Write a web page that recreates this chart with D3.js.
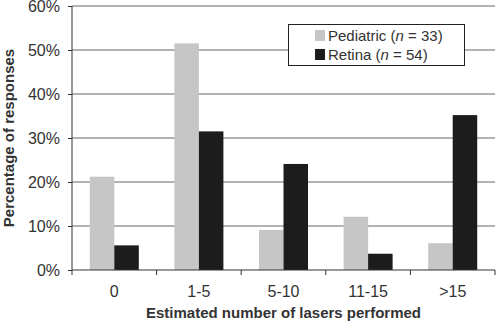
<!DOCTYPE html>
<html>
<head>
<meta charset="utf-8">
<script src="https://cdn.jsdelivr.net/npm/d3@7"></script>
<style>
  body { margin: 0; background: #fff; }
  text { font-family: "Liberation Sans", Arial, sans-serif; fill: #333; }
</style>
</head>
<body>
<div></div>
<script>
var categories = ["0", "1-5", "5-10", "11-15", ">15"];
var pediatric = [21.2, 51.5, 9.1, 12.1, 6.1];
var retina = [5.6, 31.5, 24.1, 3.7, 35.2];
var seriesNames = ["Pediatric", "Retina"];
var seriesN = [33, 54];
var yTicks = [0, 10, 20, 30, 40, 50, 60];

var width = 496;
var height = 325;
var plotLeft = 72, plotRight = 495, plotTop = 6, plotBottom = 270;

var svg = d3.select("div")
    .append("svg")
    .attr("width", width)
    .attr("height", height);

var xscale = d3.scaleBand()
    .domain(categories)
    .range([plotLeft, plotRight]);

var yscale = d3.scaleLinear()
    .domain([0, 60])
    .range([plotBottom, plotTop]);

var barW = 24.5;

// gridlines
svg.append("g")
    .selectAll("line")
    .data(yTicks.slice(1))
    .enter()
    .append("line")
    .attr("x1", plotLeft)
    .attr("x2", plotRight)
    .attr("y1", d => yscale(d))
    .attr("y2", d => yscale(d))
    .attr("stroke", "#666")
    .attr("stroke-width", 1);

// bars
var colors = ["#c6c6c6", "#1c1c1c"];
[pediatric, retina].forEach(function (vals, s) {
    svg.append("g")
        .selectAll("rect")
        .data(vals)
        .enter()
        .append("rect")
        .attr("x", (d, i) => xscale(categories[i]) + xscale.bandwidth() / 2 - barW + s * barW)
        .attr("y", d => yscale(d))
        .attr("width", barW)
        .attr("height", d => plotBottom - yscale(d))
        .attr("fill", colors[s]);
});

// y axis
var yaxis = d3.axisLeft(yscale)
    .tickValues(yTicks)
    .tickFormat(d => d + "%")
    .tickSize(4)
    .tickPadding(8);
var gy = svg.append("g")
    .attr("transform", "translate(" + plotLeft + ",0)")
    .call(yaxis);
gy.select(".domain").attr("stroke", "#333").attr("d", "M0," + plotTop + "V" + plotBottom);
gy.selectAll("line").attr("stroke", "#333");
gy.selectAll("text").style("font-size", "16px").attr("fill", "#444");

// x axis
var xaxis = d3.axisBottom(xscale).tickSize(0).tickPadding(16);
var gx = svg.append("g")
    .attr("transform", "translate(0," + plotBottom + ")")
    .call(xaxis);
gx.select(".domain").attr("stroke", "#333").attr("d", "M" + plotLeft + ",0H" + plotRight);
gx.selectAll("text").style("font-size", "16px").attr("fill", "#444");
gx.selectAll(".sep")
    .data(categories.concat(["end"]))
    .enter()
    .append("line")
    .attr("class", "sep")
    .attr("x1", (d, i) => plotLeft + i * xscale.bandwidth())
    .attr("x2", (d, i) => plotLeft + i * xscale.bandwidth())
    .attr("y1", 0)
    .attr("y2", 5)
    .attr("stroke", "#333");

// axis titles
svg.append("text")
    .attr("x", (plotLeft + plotRight) / 2)
    .attr("y", 318)
    .style("text-anchor", "middle")
    .style("font-size", "15px")
    .style("font-weight", "bold")
    .text("Estimated number of lasers performed");

svg.append("text")
    .attr("transform", "translate(14," + ((plotTop + plotBottom) / 2) + ") rotate(-90)")
    .style("text-anchor", "middle")
    .style("font-size", "15px")
    .style("font-weight", "bold")
    .text("Percentage of responses");

// legend
var legend = svg.append("g");
legend.append("rect")
    .attr("x", 288.5)
    .attr("y", 24.5)
    .attr("width", 176)
    .attr("height", 41)
    .attr("fill", "#fff")
    .attr("stroke", "#222")
    .attr("stroke-width", 1);

seriesNames.forEach(function (name, i) {
    var y = 41 + i * 19;
    legend.append("rect")
        .attr("x", 315)
        .attr("y", y - 11)
        .attr("width", 10)
        .attr("height", 11)
        .attr("fill", colors[i]);
    var t = legend.append("text")
        .attr("x", 328)
        .attr("y", y)
        .style("font-size", "15px")
        .attr("fill", "#333");
    t.append("tspan").text(name + " (");
    t.append("tspan").style("font-style", "italic").text("n");
    t.append("tspan").text(" = " + seriesN[i] + ")");
});
</script>
</body>
</html>
